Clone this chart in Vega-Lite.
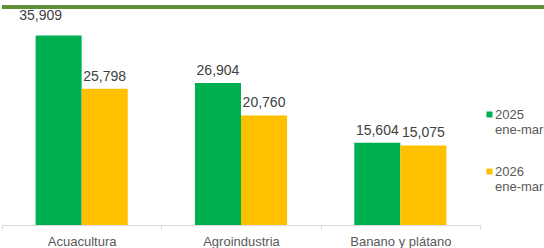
{
  "$schema": "https://vega.github.io/schema/vega-lite/v6.json",
  "width": 478,
  "height": 218,
  "padding": {"left": 0, "top": 5, "right": 0, "bottom": 0},
  "autosize": {"type": "pad"},
  "config": {"font": "Liberation Sans", "view": {"stroke": null}},
  "data": {
    "values": [
      {"category": "Acuacultura", "series": "2025 ene-mar", "value": 35909},
      {"category": "Acuacultura", "series": "2026 ene-mar", "value": 25798},
      {"category": "Agroindustria", "series": "2025 ene-mar", "value": 26904},
      {"category": "Agroindustria", "series": "2026 ene-mar", "value": 20760},
      {"category": "Banano y plátano", "series": "2025 ene-mar", "value": 15604},
      {"category": "Banano y plátano", "series": "2026 ene-mar", "value": 15075}
    ]
  },
  "layer": [
    {
      "encoding": {
        "x": {
          "field": "category", "type": "nominal", "sort": null,
          "scale": {"paddingInner": 0, "paddingOuter": 0},
          "axis": {
            "title": null, "labelAngle": 0, "tickBand": "extent",
            "domainColor": "#D9D9D9", "tickColor": "#D9D9D9", "tickSize": 4,
            "labelFontSize": 13, "labelColor": "#595959", "labelPadding": 6
          }
        },
        "xOffset": {
          "field": "series", "type": "nominal",
          "scale": {"paddingInner": 0, "paddingOuter": 0.73}
        },
        "y": {
          "field": "value", "type": "quantitative",
          "scale": {"domain": [0, 41300], "nice": false}, "axis": null
        }
      },
      "layer": [
        {
          "mark": {"type": "bar"},
          "encoding": {
            "color": {
              "field": "series", "type": "nominal",
              "scale": {"range": ["#00B050", "#FFC000"]},
              "legend": {
                "title": null, "orient": "none", "legendX": 481, "legendY": 101,
                "symbolType": "square", "symbolSize": 36, "symbolStrokeWidth": 0,
                "labelFontSize": 13, "labelColor": "#595959", "labelOffset": -1,
                "labelExpr": "split(datum.label, ' ')", "rowPadding": 28, "padding": 0
              }
            }
          }
        },
        {
          "transform": [{"filter": "datum.value < 30000"}],
          "mark": {"type": "text", "baseline": "bottom", "dy": -5, "fontSize": 14, "color": "#404040"},
          "encoding": {
            "text": {"field": "value", "type": "quantitative", "format": ","}
          }
        },
        {
          "transform": [{"filter": "datum.value >= 30000"}],
          "mark": {"type": "text", "baseline": "bottom", "dx": -18, "dy": -12, "fontSize": 14, "color": "#404040"},
          "encoding": {
            "text": {"field": "value", "type": "quantitative", "format": ","}
          }
        }
      ]
    },
    {
      "mark": {"type": "rule", "color": "#5E8E34", "strokeWidth": 3, "strokeCap": "butt"},
      "encoding": {
        "y": {"datum": 41300, "type": "quantitative", "scale": {"domain": [0, 41300], "nice": false}, "axis": null},
        "x": {"datum": 0, "type": "quantitative", "scale": {"domain": [0, 1], "range": [0, 544]}, "axis": null},
        "x2": {"datum": 1}
      }
    }
  ],
  "resolve": {"scale": {"x": "independent"}}
}
